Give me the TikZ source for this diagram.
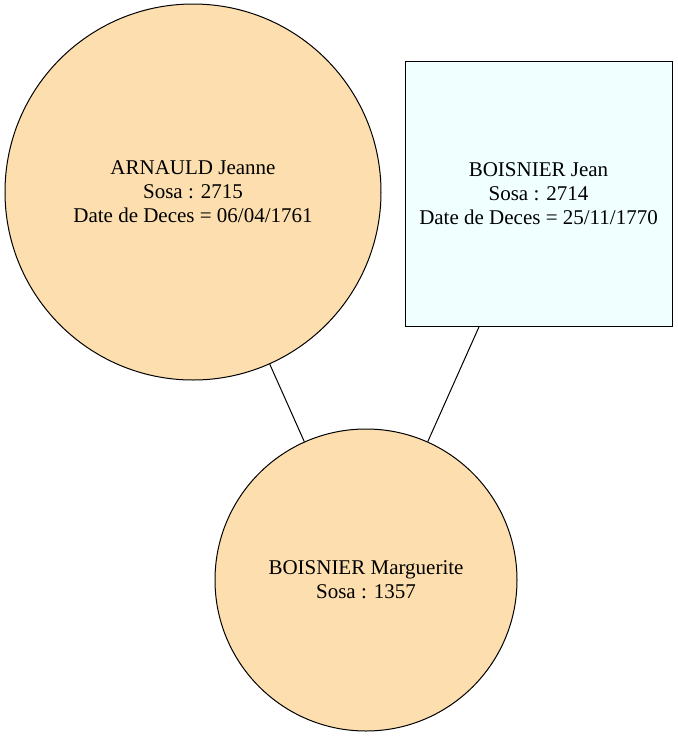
\documentclass[tikz,border=0pt]{standalone}
\usepackage{fontspec}
\setmainfont{Liberation Serif}
\definecolor{peach}{HTML}{FDDEAE}
\definecolor{azurefill}{HTML}{F0FFFF}

\begin{document}
\begin{tikzpicture}[x=1pt, y=-1pt, line width=1pt,
        every node/.style = {draw, align=center, inner sep=0pt,
        font=\fontsize{21}{24}\selectfont},
        person/.style = {circle, fill=peach},
        father/.style = {rectangle, fill=azurefill,
        minimum width=267pt, minimum height=265pt}]
    \useasboundingbox (0,0) rectangle (678,737);
    \node[person, minimum size=376pt] (arnauld) at (193,192)
        {ARNAULD Jeanne \\ Sosa : 2715 \\ Date de Deces = 06/04/1761};
    \node[father] (jean) at (538.5,193.5)
        {BOISNIER Jean \\ Sosa : 2714 \\ Date de Deces = 25/11/1770};
    \node[person, minimum size=302pt] (marguerite) at (366,580)
        {BOISNIER Marguerite \\ Sosa : 1357};
    \draw (arnauld) -- (marguerite);
    \draw (jean) -- (marguerite);
\end{tikzpicture}
\end{document}
